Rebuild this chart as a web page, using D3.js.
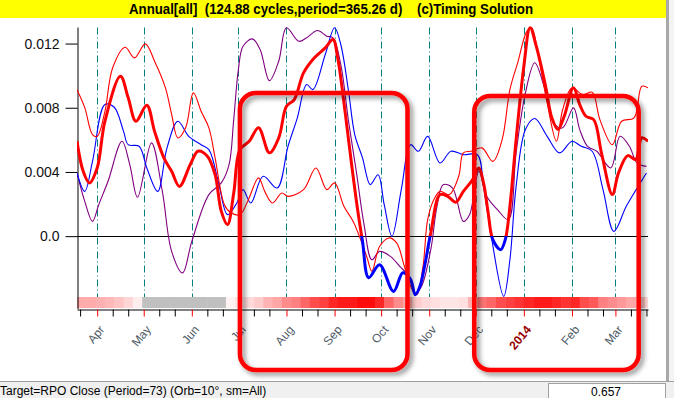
<!DOCTYPE html>
<html>
<head>
<meta charset="utf-8">
<script src="https://cdn.jsdelivr.net/npm/d3@7"></script>
<style>
body { margin: 0; background: #fff; overflow: hidden; }
svg { display: block; font-family: "Liberation Sans", Arial, sans-serif; }
</style>
</head>
<body>
<svg width="674" height="398"></svg>
<script>
// time range shown (days below are counted from startDate)
const startDate = new Date(2013, 2, 19);
const endDate = new Date(2014, 2, 22);

const titleText = "Annual[all]  (124.88 cycles,period=365.26 d)    (c)Timing Solution";
const statusText = "Target=RPO Close (Period=73) (Orb=10°, sm=All)";
const statusValue = "0.657";

const yTickValues = [0, 0.004, 0.008, 0.012];
const yTickLabels = ["0.0", "0.004", "0.008", "0.012"];

const monthLabels = ["Apr", "May", "Jun", "Jul", "Aug", "Sep", "Oct", "Nov", "Dec", "2014", "Feb", "Mar"];

// thin red
const redDays = [0,5,10,13,18,23,31,37,44,50,57,61,65,70,75,80,85,89,95,99,105,110,117,121,126,132,136,146,154,161,166,172,178,182,187,190,195,201,206,211,216,219,223,226,230,234,240,246,249,254,261,268,274,279,284,290,293,297,303,309,313,319,326,332,337,345,351,359,364,368];
const redVals = [0.00913,0.00801,0.00633,0.00622,0.00778,0.01049,0.01177,0.01111,0.01198,0.01090,0.00924,0.00758,0.00612,0.00675,0.00893,0.00778,0.00675,0.00488,0.00196,0.00147,0.00134,0.00217,0.00363,0.00279,0.00207,0.00269,0.00248,0.00290,0.00425,0.00290,0.00332,0.00186,0.00092,-0.00001,-0.00136,-0.00219,-0.00064,-0.00011,-0.00042,-0.00188,-0.00334,-0.00365,-0.00188,0.00103,0.00228,0.00279,0.00259,0.00373,0.00519,0.00529,0.00550,0.00466,0.00602,0.00913,0.01080,0.01277,0.01298,0.01142,0.00830,0.00591,0.00789,0.00924,0.00882,0.00897,0.00726,0.00570,0.00716,0.00737,0.00934,0.00924];

// thick line (red above zero, blue below)
const mainDays = [0,4,8,13,18,28,33,38,45,50,56,61,66,73,78,84,89,93,97,101,105,111,117,124,130,135,140,146,153,160,165,168,173,177,181,184,188,195,204,210,215,218,221,224,228,234,239,244,249,255,259,262,265,268,273,276,279,283,288,292,296,302,306,310,314,320,324,328,333,338,345,349,355,360,364,368];
const mainVals = [0.00591,0.00404,0.00332,0.00425,0.00716,0.00996,0.00862,0.00716,0.00815,0.00653,0.00488,0.00404,0.00310,0.00446,0.00529,0.00498,0.00383,0.00155,0.00072,0.00269,0.00539,0.00591,0.00675,0.00519,0.00612,0.00809,0.00851,0.01017,0.01111,0.01173,0.01225,0.01111,0.00757,0.00446,0.00155,-0.00032,-0.00259,-0.00178,-0.00344,-0.00228,-0.00271,-0.00365,-0.00313,-0.00188,0.00020,0.00259,0.00248,0.00211,0.00279,0.00352,0.00425,0.00332,0.00145,-0.00022,-0.00084,-0.00022,0.00186,0.00602,0.01059,0.01298,0.01183,0.00934,0.00737,0.00664,0.00747,0.00924,0.00820,0.00747,0.00726,0.00519,0.00259,0.00394,0.00502,0.00477,0.00612,0.00591];

// thin blue
const blueDays = [0,5,10,18,24,30,33,40,45,52,58,65,72,80,85,91,97,103,107,112,120,129,136,142,148,152,160,166,170,175,179,184,189,194,198,203,209,215,220,226,234,241,249,258,262,267,275,279,283,289,295,303,311,319,325,332,339,346,354,361,367];
const blueVals = [0.00394,0.00279,0.00466,0.00820,0.00803,0.00653,0.00570,0.00560,0.00425,0.00279,0.00550,0.00716,0.00622,0.00570,0.00539,0.00342,0.00134,0.00207,0.00290,0.00207,0.00373,0.00300,0.00560,0.00737,0.00945,0.00913,0.01132,0.01298,0.01194,0.00903,0.00633,0.00488,0.00321,0.00383,0.00196,-0.00001,0.00290,0.00570,0.00529,0.00622,0.00456,0.00529,0.00508,0.00508,0.00310,-0.00001,-0.00375,-0.00147,0.00310,0.00664,0.00733,0.00622,0.00519,0.00591,0.00560,0.00529,0.00290,0.00030,0.00186,0.00300,0.00394];

// purple
const purpleDays = [0,5,10,14,20,29,34,39,48,55,61,68,74,85,93,98,101,104,107,113,118,124,130,135,143,148,155,161,165,170,175,180,185,190,195,202,208,214,218,222,228,232,236,242,249,253,259,264,271,278,283,289,295,301,308,313,320,324,329,335,344,350,356,361,367];
const purpleVals = [0.00394,0.00217,0.00092,0.00196,0.00342,0.00591,0.00446,0.00242,0.00581,0.00279,-0.00095,-0.00229,-0.00032,0.00259,0.00332,0.00446,0.00726,0.01038,0.01183,0.01229,0.01163,0.00969,0.01090,0.01298,0.01214,0.01236,0.01281,0.01246,0.01236,0.01069,0.00716,0.00404,0.00072,-0.00147,-0.00095,-0.00126,-0.00188,-0.00251,-0.00354,-0.00313,-0.00084,0.00186,0.00321,0.00300,0.00092,0.00134,0.00404,0.00248,0.00165,0.00103,0.00519,0.00893,0.01080,0.00934,0.00695,0.00675,0.00799,0.00664,0.00560,0.00529,0.00425,0.00622,0.00560,0.00456,0.00435];

// strength band under the plot, one value per 6 days (null = grey)
const bandStep = 6;
const bandVals = [0.33,0.33,0.31,0.28,0.23,0.16,0.07,null,null,null,null,null,null,null,null,null,0.05,0.1,0.15,0.2,0.3,0.35,0.45,0.5,0.6,0.7,0.75,0.85,0.9,0.9,0.95,0.95,0.85,0.6,0.45,0.35,0.2,0.15,0.12,0.1,0.1,0.12,0.3,0.55,0.6,0.7,0.75,0.8,0.85,0.9,0.9,0.85,0.8,0.85,0.7,0.65,0.5,0.45,0.4,0.35,0.25,0.15];

// highlighted periods (days from startDate)
const boxDays = [[105, 213], [256, 362]];

const svg = d3.select("svg");

const x = d3.scaleTime().domain([startDate, endDate]).range([77, 648]);
const y = d3.scaleLinear().domain([-0.0046, 0.013]).range([310, 27.5]);
const day = (d) => d3.timeDay.offset(startDate, d);

const defs = svg.append("defs");
defs.append("clipPath").attr("id", "plot")
	.append("rect").attr("x", 77).attr("y", 0).attr("width", 571).attr("height", y(-0.0046));
defs.append("clipPath").attr("id", "pos")
	.append("rect").attr("x", 77).attr("y", 0).attr("width", 571).attr("height", y(0));
defs.append("clipPath").attr("id", "neg")
	.append("rect").attr("x", 77).attr("y", y(0)).attr("width", 571).attr("height", 100);
const shadow = defs.append("filter").attr("id", "shadow")
	.attr("x", "-10%").attr("y", "-10%").attr("width", "130%").attr("height", "130%");
shadow.append("feDropShadow").attr("dx", 3).attr("dy", 3).attr("stdDeviation", 2.5)
	.attr("flood-color", "#000").attr("flood-opacity", 0.45);

svg.append("rect").attr("width", 674).attr("height", 398).attr("fill", "#fff");

// title bar
svg.append("rect").attr("x", 0).attr("y", 0).attr("width", 666).attr("height", 18).attr("fill", "#ffff00");
svg.append("text")
	.attr("x", 331).attr("y", 13.5)
	.attr("text-anchor", "middle")
	.attr("textLength", 404).attr("lengthAdjust", "spacingAndGlyphs")
	.style("white-space", "pre")
	.style("font-family", "'Liberation Sans Narrow', 'Liberation Sans', Arial, sans-serif")
	.style("font-weight", "bold").style("font-size", "14px")
	.text(titleText);

// right border strip
svg.append("rect").attr("x", 666).attr("y", 0).attr("width", 3).attr("height", 381).attr("fill", "#a8a8a8");
svg.append("rect").attr("x", 669).attr("y", 0).attr("width", 5).attr("height", 381).attr("fill", "#f4f4f4");

// strength band
const band = svg.append("g").attr("clip-path", "url(#plot)");
const bandColor = d3.interpolateRgb("#ffffff", "#ff0000");
band.selectAll("rect")
	.data(bandVals)
	.join("rect")
	.attr("x", (d, i) => x(day(i * bandStep)))
	.attr("width", (d, i) => x(day((i + 1) * bandStep)) - x(day(i * bandStep)) + 0.5)
	.attr("y", 297)
	.attr("height", 11)
	.attr("fill", (d) => (d === null ? "#c0c0c0" : bandColor(d)));

// month grid lines
const monthDates = d3.timeMonth.range(new Date(2013, 3, 1), new Date(2014, 2, 2));
svg.append("g")
	.selectAll("line")
	.data(monthDates)
	.join("line")
	.attr("x1", (d) => Math.round(x(d)) + 0.5)
	.attr("x2", (d) => Math.round(x(d)) + 0.5)
	.attr("y1", y.range()[1])
	.attr("y2", 297)
	.attr("stroke", "#008080")
	.attr("stroke-width", 1)
	.attr("stroke-dasharray", "7,3,1,3");

// zero line
svg.append("line")
	.attr("x1", 77).attr("x2", 648)
	.attr("y1", Math.round(y(0)) + 0.5).attr("y2", Math.round(y(0)) + 0.5)
	.attr("stroke", "#000");

// y axis
const yAxis = svg.append("g")
	.attr("transform", "translate(77.5,0)")
	.call(d3.axisLeft(y).tickValues(yTickValues).tickFormat((d, i) => yTickLabels[i]).tickSize(12).tickSizeOuter(0).tickPadding(6));
yAxis.selectAll("text").style("font-size", "14px").style("font-family", "'Liberation Sans', Arial, sans-serif").attr("fill", "#111");
yAxis.select(".domain").attr("d", `M0.5,${y.range()[1]}V309`);

// x axis: ticks every 10 days, month starts in red
const tickDates = x.ticks(d3.timeDay.every(10)).filter((d) => d.getDate() !== 31);
const xAxis = svg.append("g")
	.attr("transform", "translate(0,309.5)")
	.call(d3.axisBottom(x).tickValues(tickDates).tickSize(7).tickSizeOuter(0).tickFormat(""));
xAxis.select(".domain").attr("stroke", "#000");
xAxis.selectAll(".tick line").attr("stroke", (d) => (d.getDate() === 1 ? "#ff0000" : "#000"));

// month labels
svg.append("g")
	.selectAll("text")
	.data(monthDates)
	.join("text")
	.attr("transform", (d) => `translate(${x(d) + 8},330) rotate(-50)`)
	.attr("text-anchor", "end")
	.style("font-size", "12px")
	.style("font-weight", (d, i) => (monthLabels[i] === "2014" ? "bold" : "normal"))
	.attr("fill", (d, i) => (monthLabels[i] === "2014" ? "#990000" : "#4f5b66"))
	.text((d, i) => monthLabels[i]);

// series
const line = d3.line()
	.x((d) => x(day(d[0])))
	.y((d) => y(d[1]))
	.curve(d3.curveCatmullRom.alpha(0.5));

const plot = svg.append("g").attr("clip-path", "url(#plot)");
const zip = (days, vals) => days.map((d, i) => [d, vals[i]]);

plot.append("path").datum(zip(purpleDays, purpleVals))
	.attr("d", line).attr("fill", "none").attr("stroke", "#800080").attr("stroke-width", 1.1);
plot.append("path").datum(zip(blueDays, blueVals))
	.attr("d", line).attr("fill", "none").attr("stroke", "#0000ff").attr("stroke-width", 1.1);
plot.append("path").datum(zip(redDays, redVals))
	.attr("d", line).attr("fill", "none").attr("stroke", "#ff0000").attr("stroke-width", 1.1);

const mainData = zip(mainDays, mainVals);
plot.append("g").attr("clip-path", "url(#pos)")
	.append("path").datum(mainData)
	.attr("d", line).attr("fill", "none").attr("stroke", "#ff0000").attr("stroke-width", 3);
plot.append("g").attr("clip-path", "url(#neg)")
	.append("path").datum(mainData)
	.attr("d", line).attr("fill", "none").attr("stroke", "#0000ff").attr("stroke-width", 3);

// status bar
svg.append("rect").attr("x", 0).attr("y", 381).attr("width", 674).attr("height", 17).attr("fill", "#f0f0f0");
svg.append("line").attr("x1", 0).attr("x2", 674).attr("y1", 381.5).attr("y2", 381.5).attr("stroke", "#a0a0a0");
svg.append("text").attr("x", 0).attr("y", 395)
	.style("font-size", "12px").attr("fill", "#000")
	.text(statusText);
svg.append("rect").attr("x", 548.5).attr("y", 383.5).attr("width", 117).attr("height", 16)
	.attr("fill", "#fff").attr("stroke", "#a0a0a0");
svg.append("text").attr("x", 606).attr("y", 396)
	.attr("text-anchor", "middle")
	.style("font-size", "12px").attr("fill", "#000")
	.text(statusValue);

// highlight boxes
svg.append("g")
	.selectAll("rect")
	.data(boxDays)
	.join("rect")
	.attr("x", (d) => x(day(d[0])))
	.attr("width", (d) => x(day(d[1])) - x(day(d[0])))
	.attr("y", (d, i) => (i === 0 ? 93 : 96))
	.attr("height", (d, i) => (i === 0 ? 277 : 274))
	.attr("rx", 16)
	.attr("fill", "none")
	.attr("stroke", "#ff0000")
	.attr("stroke-width", 4.5)
	.attr("filter", "url(#shadow)");
</script>
</body>
</html>
